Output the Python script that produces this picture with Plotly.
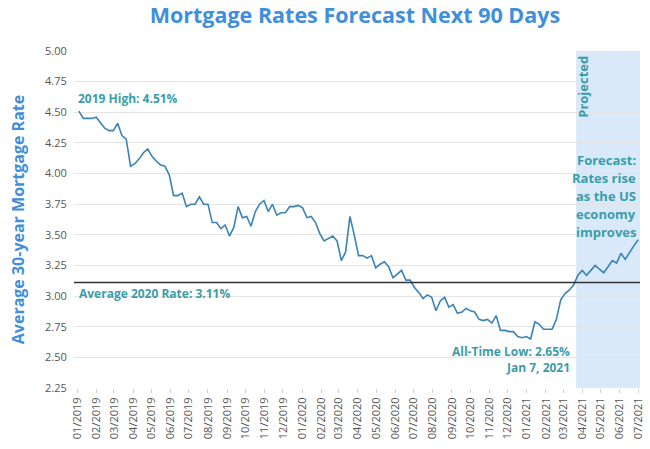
import pandas as pd
import plotly.graph_objects as go

# ---- data (weekly 30-year fixed mortgage rate, %) ----
start_actual = "2019-01-03"
rates_2019 = [4.51, 4.45, 4.45, 4.45, 4.46, 4.41, 4.37, 4.35, 4.35, 4.41, 4.31, 4.28, 4.06,
              4.08, 4.12, 4.17, 4.20, 4.14, 4.10, 4.07, 4.06, 3.99, 3.82, 3.82, 3.84, 3.73,
              3.75, 3.75, 3.81, 3.75, 3.75, 3.60, 3.60, 3.55, 3.58, 3.49, 3.56, 3.73, 3.64,
              3.65, 3.57, 3.69, 3.75, 3.78, 3.69, 3.75, 3.66, 3.68, 3.68, 3.73, 3.73, 3.74]
rates_2020 = [3.72, 3.64, 3.65, 3.60, 3.51, 3.45, 3.47, 3.49, 3.45, 3.29, 3.36, 3.65, 3.50,
              3.33, 3.33, 3.31, 3.33, 3.23, 3.26, 3.28, 3.24, 3.15, 3.18, 3.21, 3.13, 3.13,
              3.07, 3.03, 2.98, 3.01, 2.99, 2.88, 2.96, 2.99, 2.91, 2.93, 2.86, 2.87, 2.90,
              2.88, 2.87, 2.81, 2.80, 2.81, 2.78, 2.84, 2.72, 2.72, 2.71, 2.71, 2.67, 2.66, 2.67]
rates_2021 = [2.65, 2.79, 2.77, 2.73, 2.73, 2.73, 2.81, 2.97, 3.02, 3.05, 3.09, 3.17]
start_forecast = "2021-04-01"
rates_forecast = [3.21, 3.17, 3.21, 3.25, 3.22, 3.19, 3.24, 3.29, 3.27, 3.35, 3.30, 3.36, 3.41, 3.46]

average_2020 = 3.11
projected_start = "2021-03-22"
x_range = ["2018-12-26", "2021-07-04"]
y_ticks = [2.25, 2.50, 2.75, 3.00, 3.25, 3.50, 3.75, 4.00, 4.25, 4.50, 4.75, 5.00]
x_tick_start = "2019-01-01"
x_tick_count = 31

low_lines = ["All-Time Low: 2.65%", "Jan 7, 2021"]
forecast_lines = ["Forecast:", "Rates rise", "as the US", "economy", "improves"]

actual_rates = rates_2019 + rates_2020 + rates_2021
actual_dates = list(pd.date_range(start_actual, periods=len(actual_rates), freq="7D"))
forecast_dates = list(pd.date_range(start_forecast, periods=len(rates_forecast), freq="7D"))
all_dates = actual_dates + forecast_dates
all_rates = actual_rates + rates_forecast
tick_dates = list(pd.date_range(x_tick_start, periods=x_tick_count, freq="MS"))

TEAL = "#3a9daa"
BLUE = "#3f8fdc"
FONT = "Open Sans"

fig = go.Figure()
fig.add_trace(go.Scatter(x=all_dates, y=all_rates, mode="lines",
                         line=dict(color="#3a83b8", width=1.6), hoverinfo="skip",
                         showlegend=False))

# projected band
fig.add_shape(type="rect", xref="x", yref="paper", x0=projected_start, x1=x_range[1],
              y0=0, y1=1, fillcolor="#d9e9fa", line_width=0, layer="below")
# average line
fig.add_shape(type="line", xref="paper", yref="y", x0=0, x1=1, y0=average_2020, y1=average_2020,
              line=dict(color="#333333", width=1.5))

ann_font = dict(family=FONT, size=12, color=TEAL, weight="bold")
big_font = dict(family=FONT, size=13, color=TEAL, weight="bold")
fig.add_annotation(x=0.003, xref="paper", y=4.61, yref="y", text="2019 High: 4.51%",
                   showarrow=False, xanchor="left", yanchor="middle", font=ann_font)
fig.add_annotation(x=0.006, xref="paper", y=3.025, yref="y", text="Average 2020 Rate: 3.11%",
                   showarrow=False, xanchor="left", yanchor="middle", font=ann_font)
for i, line in enumerate(low_lines):
    fig.add_annotation(x="2021-03-15", xref="x", y=2.55 - i * 0.135, yref="y", text=line,
                       showarrow=False, xanchor="right", yanchor="middle", font=ann_font)
for i, line in enumerate(forecast_lines):
    fig.add_annotation(x=0.997, xref="paper", y=4.11 - i * 0.147, yref="y", text=line,
                       showarrow=False, xanchor="right", yanchor="middle", font=big_font)
fig.add_annotation(x="2021-04-01", xref="x", y=4.71, yref="y", text="Projected", textangle=-90,
                   showarrow=False, xanchor="center", yanchor="middle", font=big_font)

fig.update_layout(
    width=650, height=449,
    margin=dict(l=74, r=10, t=51, b=61, autoexpand=False),
    paper_bgcolor="white", plot_bgcolor="white",
    font=dict(family=FONT, color="#555555", size=11),
    title=dict(text="<b>Mortgage Rates Forecast Next 90 Days</b>", x=0.546, xanchor="center",
               y=0.966, yanchor="middle", font=dict(family=FONT, size=21.5, color=BLUE)),
)
fig.update_xaxes(type="date", range=x_range, tickvals=tick_dates,
                 ticktext=[d.strftime("%m/%Y") for d in tick_dates], tickangle=-90,
                 showgrid=False, ticks="outside", ticklen=4, tickcolor="#d0d0d0",
                 showline=False, zeroline=False, automargin=False,
                 tickfont=dict(size=11, color="#555555"))
fig.update_yaxes(range=[2.25, 5.0], tickvals=y_ticks, ticktext=[f"{v:.2f}" for v in y_ticks],
                 showgrid=True, gridcolor="#e4e4e4", gridwidth=1, zeroline=False,
                 ticks="outside", ticklen=4, tickcolor="rgba(0,0,0,0)", automargin=False,
                 tickfont=dict(size=11, color="#555555"),
                 title=dict(text="<b>Average 30-year Mortgage Rate</b>", standoff=16,
                            font=dict(family=FONT, size=16, color=BLUE)))

fig.write_html("out.html")
